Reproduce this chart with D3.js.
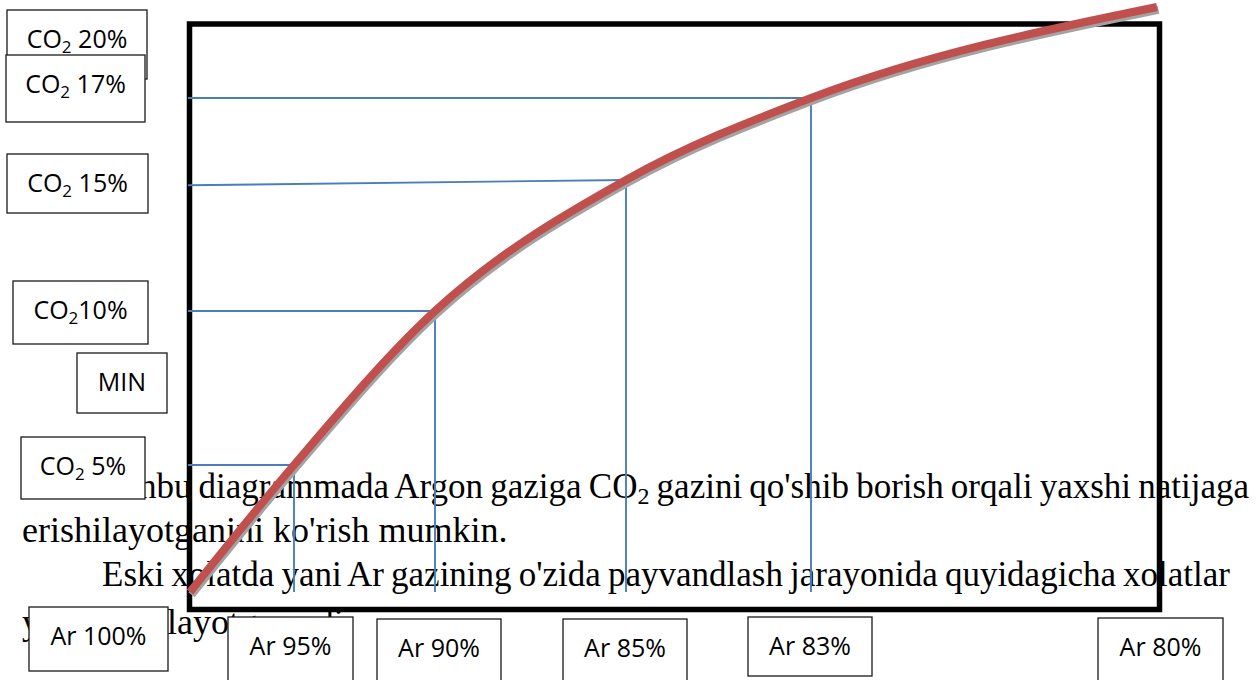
<!DOCTYPE html>
<html><head><meta charset="utf-8">
<script src="https://cdn.jsdelivr.net/npm/d3@7"></script>
<style>body{margin:0;background:#fff;} svg{display:block}</style>
</head><body>
<svg id="chart" width="1256" height="680"></svg>
<script>
// ---------------- data ----------------
const arLevels  = [100, 95, 90, 85, 83, 80];          // Ar share, %
const co2Levels = [0, 5, 10, 15, 17, 20];             // CO2 share, %
const arLabels  = ["Ar 100%", "Ar 95%", "Ar 90%", "Ar 85%", "Ar 83%", "Ar 80%"];
const co2LabelValues = [20, 17, 15, 10, 5];
const co2LabelSuffix = [" 20%", " 17%", " 15%", "10%", " 5%"];
const minLabel = "MIN";
const guideAr       = [95, 90, 85, 83];
const guideCO2      = [5, 10, 15, 17];
const guideStartCO2 = [5, 10, 14.8, 17];
// body text of the document page behind the chart (segments; sub = subscript)
const textLines = [
  [{t:"Ushbu diagrammada Argon gaziga CO"},{t:"2",sub:true},{t:" gazini qo'shib borish orqali yaxshi natijaga"}],
  [{t:"erishilayotganini ko'rish mumkin."}],
  [{t:"Eski xolatda yani Ar gazining o'zida payvandlash jarayonida quyidagicha xolatlar"}],
  [{t:"yuzaga kelayotgan edi."}]
];

// ---------------- layout ----------------
const W = 1256, H = 680;
const arStops  = [190, 294, 435, 626, 811, 1157];   // scale range (pixels)
const co2Stops = [592, 465, 311, 180, 98, 7];
const frame = {x: 189.5, y: 24, w: 970, h: 585.5};
const lineLayout = [ {x:100, y:498, end:1249, fs:35}, {x:22, y:542, fs:36}, {x:102, y:586, end:1230, fs:35}, {x:22, y:634, fs:36} ];
const co2Boxes = [[7,10,140,69],[6,55,139,67],[7,154,141,59],[13,281,135,63],[21,437,124,62]];
const minBox = [77,353,90,60];
const arBoxes = [[29,607,139,64],[228,617,125,75],[377,619,124,75],[563,619,124,75],[748,617,124,59],[1098,618,125,75]];

const svg = d3.select("#chart");
const x = d3.scaleLinear().domain(arLevels).range(arStops);
const y = d3.scaleLinear().domain(co2Levels).range(co2Stops);

// ---------------- body text (underneath) ----------------
const tg = svg.append("g").attr("font-family","'Liberation Serif','Times New Roman',serif").attr("fill","#000");
textLines.forEach((segs, i) => {
  const L = lineLayout[i];
  const t = tg.append("text").attr("x", L.x).attr("y", L.y).attr("font-size", L.fs).style("white-space","pre");
  segs.forEach((s, j) => {
    const ts = t.append("tspan").text(s.t);
    if (s.sub) ts.attr("font-size",24).attr("dy",6);
    else if (j > 0 && segs[j-1].sub) ts.attr("dy",-6);
  });
  if (L.end) {
    const nat = t.node().getComputedTextLength();
    const spaces = segs.map(s=>s.t).join("").split(" ").length - 1;
    t.style("word-spacing", ((L.end - L.x - nat) / spaces) + "px");
  }
});

// ---------------- frame ----------------
svg.append("rect").attr("x",frame.x).attr("y",frame.y).attr("width",frame.w).attr("height",frame.h)
  .attr("fill","none").attr("stroke","#000").attr("stroke-width",5.5);

// ---------------- guides ----------------
const gg = svg.append("g").attr("stroke","#4A7EBB").attr("stroke-width",1.9).attr("fill","none");
guideAr.forEach((a, i) => {
  gg.append("line").attr("x1", frame.x - 1.5).attr("y1", y(guideStartCO2[i]))
    .attr("x2", x(a)).attr("y2", y(guideCO2[i]));
  gg.append("line").attr("x1", x(a)).attr("y1", y(guideCO2[i]))
    .attr("x2", x(a)).attr("y2", y(0));
});

// ---------------- curve ----------------
const pts = arLevels.map((a, i) => [x(a), y(co2Levels[i])]);
const line = d3.line().curve(d3.curveMonotoneX);
svg.append("path").attr("d", line(pts)).attr("fill","none").attr("stroke","#a3a3a3")
  .attr("stroke-width",8).attr("transform","translate(1.5,2.8)");
svg.append("path").attr("d", line(pts)).attr("fill","none").attr("stroke","#C0504D")
  .attr("stroke-width",8);

// ---------------- label boxes ----------------
const bg = svg.append("g").attr("font-family","'Open Sans','Noto Sans',sans-serif").attr("font-size",25);
function box(b){
  bg.append("rect").attr("x",b[0]).attr("y",b[1]).attr("width",b[2]).attr("height",b[3])
    .attr("fill","#fff").attr("stroke","#1a1a1a").attr("stroke-width",1.3);
  return bg.append("text").attr("x",b[0]+b[2]/2).attr("y",b[1]+38).attr("text-anchor","middle").attr("fill","#000");
}
co2LabelValues.forEach((v, i) => {
  const t = box(co2Boxes[i]).style("white-space","pre");
  t.append("tspan").text("CO");
  t.append("tspan").attr("font-size",17).attr("dy",5).text("2");
  t.append("tspan").attr("dy",-5).text(co2LabelSuffix[i]);
});
box(minBox).text(minLabel);
arLabels.forEach((l, i) => box(arBoxes[i]).text(l));
</script>
</body></html>
